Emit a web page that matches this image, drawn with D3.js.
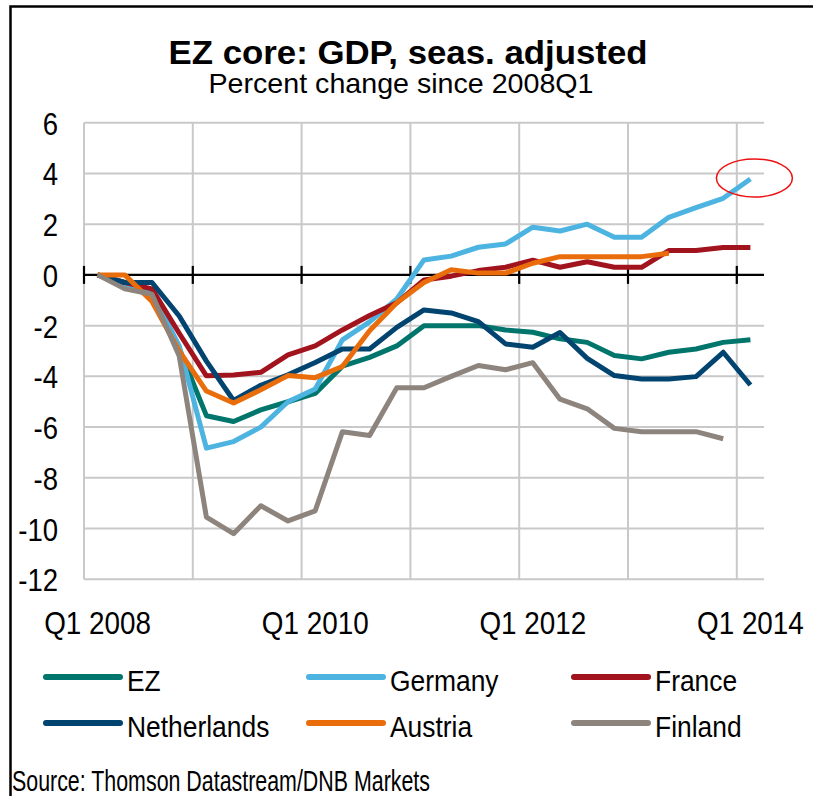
<!DOCTYPE html>
<html>
<head>
<meta charset="utf-8">
<script src="https://cdnjs.cloudflare.com/ajax/libs/d3/7.8.5/d3.min.js"></script>
<style>
  body { margin: 0; background: #fff; }
  svg { display: block; font-family: "Liberation Sans", Arial, sans-serif; }
</style>
</head>
<body>
<svg id="chart" width="813" height="796"></svg>
<script>
const width = 813;
const height = 796;

// quarters on the category axis
const quarters = [
  "Q1 2008", "Q2 2008", "Q3 2008", "Q4 2008",
  "Q1 2009", "Q2 2009", "Q3 2009", "Q4 2009",
  "Q1 2010", "Q2 2010", "Q3 2010", "Q4 2010",
  "Q1 2011", "Q2 2011", "Q3 2011", "Q4 2011",
  "Q1 2012", "Q2 2012", "Q3 2012", "Q4 2012",
  "Q1 2013", "Q2 2013", "Q3 2013", "Q4 2013",
  "Q1 2014"
];
const xTickLabels = ["Q1 2008", "Q1 2010", "Q1 2012", "Q1 2014"];
const yTicks = [6, 4, 2, 0, -2, -4, -6, -8, -10, -12];

// percent change since 2008Q1
const ez          = [0, -0.35, -0.6, -2.9, -5.55, -5.78, -5.32, -5.0, -4.67, -3.6, -3.25, -2.8, -2.0, -2.0, -2.0, -2.17, -2.26, -2.52, -2.66, -3.18, -3.31, -3.05, -2.92, -2.66, -2.56];
const germany     = [0, -0.35, -0.7, -2.8, -6.83, -6.57, -6.0, -5.0, -4.5, -2.56, -1.85, -0.95, 0.59, 0.74, 1.09, 1.22, 1.88, 1.73, 2.0, 1.48, 1.48, 2.27, 2.65, 3.02, 3.78];
const france      = [0, -0.3, -0.55, -2.3, -3.98, -3.95, -3.84, -3.15, -2.8, -2.17, -1.6, -1.1, -0.2, -0.05, 0.17, 0.3, 0.58, 0.3, 0.52, 0.3, 0.3, 0.96, 0.96, 1.08, 1.08];
const netherlands = [0, -0.3, -0.3, -1.62, -3.4, -4.95, -4.35, -3.94, -3.45, -2.92, -2.92, -2.07, -1.38, -1.5, -1.84, -2.72, -2.85, -2.27, -3.29, -3.97, -4.1, -4.1, -4.01, -3.05, -4.34];
const austria     = [0, 0, -1.05, -3.0, -4.58, -5.05, -4.53, -3.97, -4.05, -3.61, -2.2, -1.1, -0.3, 0.2, 0.07, 0.07, 0.46, 0.72, 0.72, 0.72, 0.72, 0.85];
const finland     = [0, -0.55, -0.76, -3.2, -9.55, -10.2, -9.1, -9.7, -9.3, -6.18, -6.33, -4.45, -4.45, -4.0, -3.57, -3.74, -3.46, -4.9, -5.28, -6.05, -6.18, -6.18, -6.18, -6.46];

const seriesNames  = ["EZ", "Germany", "France", "Netherlands", "Austria", "Finland"];
const seriesValues = [ez, germany, france, netherlands, austria, finland];
const seriesColors = ["#00756C", "#4DB4E1", "#A1131D", "#014470", "#EA6D0C", "#8D847D"];

const svg = d3.select("#chart");

svg.append("rect").attr("width", width).attr("height", height).attr("fill", "#fff");

// outer frame (only top and left edges show)
svg.append("path")
  .attr("d", `M10.5,${height} V6.5 H${width}`)
  .attr("fill", "none")
  .attr("stroke", "#000")
  .attr("stroke-width", 2.5);

const x = d3.scaleBand().domain(quarters).range([84, 764]).padding(0);
const xc = q => x(q) + x.bandwidth() / 2;
const y = d3.scaleLinear().domain([-12, 6]).range([579.3, 122.7]);

// squeeze text horizontally, the chart uses a narrow face
function squeeze(sel, k) {
  sel.each(function () {
    const w = this.getComputedTextLength();
    d3.select(this).attr("textLength", w * k).attr("lengthAdjust", "spacingAndGlyphs");
  });
}

// grid
const grid = svg.append("g").attr("stroke", "#C9C9C9").attr("stroke-width", 2);
grid.selectAll("line.h")
  .data(yTicks.filter(d => d !== 0))
  .enter().append("line")
  .attr("x1", 84).attr("x2", 764)
  .attr("y1", d => y(d)).attr("y2", d => y(d));
const vq = quarters.filter((q, i) => i % 4 === 0);
grid.selectAll("line.v")
  .data(vq)
  .enter().append("line")
  .attr("x1", d => x(d)).attr("x2", d => x(d))
  .attr("y1", y(6)).attr("y2", y(-12));

// zero axis with tick marks
const zero = svg.append("g").attr("stroke", "#000").attr("stroke-width", 2.2);
zero.append("line").attr("x1", 84).attr("x2", 764).attr("y1", y(0)).attr("y2", y(0));
zero.selectAll("line.t")
  .data(vq)
  .enter().append("line")
  .attr("x1", d => x(d)).attr("x2", d => x(d))
  .attr("y1", y(0) - 9).attr("y2", y(0) + 9);

// y axis labels
const yAxis = svg.append("g")
  .attr("transform", "translate(84,0)")
  .call(d3.axisLeft(y).tickValues(yTicks).tickSize(0).tickPadding(26).tickFormat(d3.format("d")));
yAxis.select(".domain").remove();
yAxis.selectAll("text")
  .attr("font-family", "'Liberation Sans', Arial, sans-serif")
  .attr("font-size", 32).attr("fill", "#000").attr("dy", "0.36em")
  .text(d => d < 0 ? "-" + Math.abs(d) : d)
  .call(squeeze, 0.86);

// x axis labels
const xAxis = svg.append("g")
  .attr("transform", `translate(0,${y(-12)})`)
  .call(d3.axisBottom(x).tickValues(xTickLabels).tickSize(0).tickPadding(32));
xAxis.select(".domain").remove();
xAxis.selectAll("text")
  .attr("font-family", "'Liberation Sans', Arial, sans-serif")
  .attr("font-size", 32).attr("fill", "#000")
  .call(squeeze, 0.87);

// series
const line = d3.line()
  .x((d, i) => xc(quarters[i]))
  .y(d => y(d));

svg.append("g")
  .selectAll("path")
  .data(seriesValues)
  .enter().append("path")
  .attr("d", d => line(d))
  .attr("fill", "none")
  .attr("stroke", (d, i) => seriesColors[i])
  .attr("stroke-width", 5)
  .attr("stroke-linejoin", "round");

// red ring round the latest German reading
svg.append("ellipse")
  .attr("cx", xc("Q1 2014") + 4)
  .attr("cy", y(germany[germany.length - 1]) - 1)
  .attr("rx", 38).attr("ry", 19)
  .attr("fill", "none").attr("stroke", "#EE1111").attr("stroke-width", 1.5);

// titles
svg.append("text")
  .attr("x", 408).attr("y", 64)
  .attr("text-anchor", "middle")
  .attr("font-size", 34).attr("font-weight", "bold")
  .text("EZ core: GDP, seas. adjusted")
  .attr("textLength", 479).attr("lengthAdjust", "spacingAndGlyphs");

svg.append("text")
  .attr("x", 401).attr("y", 93)
  .attr("text-anchor", "middle")
  .attr("font-size", 28)
  .text("Percent change since 2008Q1")
  .attr("textLength", 385).attr("lengthAdjust", "spacingAndGlyphs");

// legend
const legendX = [46, 309, 574];
const legendY = [677, 723];
const legend = svg.append("g")
  .selectAll("g")
  .data(seriesNames)
  .enter().append("g")
  .attr("transform", (d, i) => `translate(${legendX[i % 3]},${legendY[Math.floor(i / 3)]})`);
legend.append("line")
  .attr("x1", 0).attr("x2", 74)
  .attr("stroke", (d, i) => seriesColors[i])
  .attr("stroke-width", 6).attr("stroke-linecap", "round");
legend.append("text")
  .attr("x", 81).attr("y", 14)
  .attr("font-size", 30)
  .text(d => d)
  .call(squeeze, 0.88);

// source
svg.append("text")
  .attr("x", 12).attr("y", 791)
  .attr("font-size", 29)
  .attr("textLength", 418).attr("lengthAdjust", "spacingAndGlyphs")
  .text("Source: Thomson Datastream/DNB Markets");
</script>
</body>
</html>
